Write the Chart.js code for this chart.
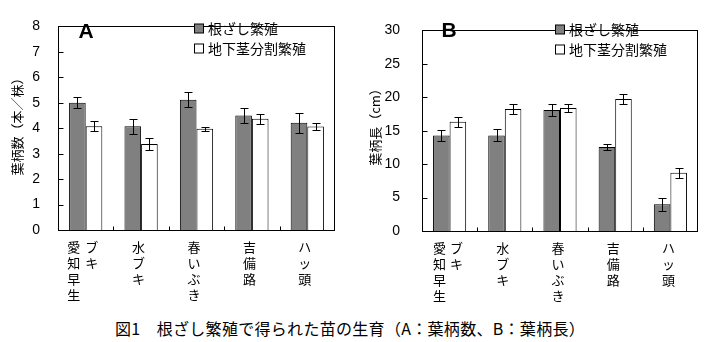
<!DOCTYPE html>
<html lang="ja">
<head>
<meta charset="UTF-8">
<title>根ざし繁殖で得られた苗の生育</title>
<script src="https://cdn.jsdelivr.net/npm/chart.js"></script>
<style>
    body {
        margin: 0;
        background: #fff;
        width: 715px;
        height: 342px;
        overflow: hidden;
        position: relative;
        font-family: "Noto Sans CJK JP", sans-serif;
    }
    #chartA { position: absolute; left: 0; top: 0; }
    #chartB { position: absolute; left: 360px; top: 0; }
    .caption {
        position: absolute;
        left: 0;
        width: 700px;
        top: 318px;
        line-height: 20px;
        text-align: center;
        font-size: 16px;
        letter-spacing: 0.3px;
        color: #000;
    }
</style>
</head>
<body>
<canvas id="chartA" width="345" height="310"></canvas>
<canvas id="chartB" width="350" height="311"></canvas>
<div class="caption">図1　根ざし繁殖で得られた苗の生育（A：葉柄数、B：葉柄長）</div>

<script>
    // categories, written as vertical columns under the axis
    const categories = [['愛知早生', 'ブキ'], ['水ブキ'], ['春いぶき'], ['吉備路'], ['ハッ頭']];
    const seriesNames = ['根ざし繁殖', '地下茎分割繁殖'];

    // A: 葉柄数 (本/株)
    const countNezashi = [5.0, 4.08, 5.12, 4.5, 4.21];
    const countNezashiErr = [0.22, 0.3, 0.3, 0.28, 0.4];
    const countChika = [4.08, 3.38, 3.98, 4.37, 4.07];
    const countChikaErr = [0.2, 0.22, 0.08, 0.19, 0.13];
    const countAxis = [0, 8, 1];   // min, max, step

    // B: 葉柄長 (cm)
    const lengthNezashi = [14.3, 14.3, 18.1, 12.55, 4.0];
    const lengthNezashiErr = [0.85, 0.88, 0.93, 0.4, 1.0];
    const lengthChika = [16.35, 18.25, 18.4, 19.75, 8.7];
    const lengthChikaErr = [0.77, 0.72, 0.55, 0.77, 0.72];
    const lengthAxis = [0, 30, 5];

    const JP = '"Noto Sans CJK JP", sans-serif';

    // frame, inward ticks, error bars, legend and text drawn on top of the bars
    const decor = {
        id: 'decor',
        afterDatasetsDraw(chart, args, opts) {
            const ctx = chart.ctx;
            const area = chart.chartArea;
            const xs = chart.scales.x;
            const ys = chart.scales.y;
            const l = Math.round(area.left) + 0.5;
            const r = Math.round(area.right) - 0.5;
            const t = Math.round(area.top) + 0.5;
            const b = Math.round(area.bottom) + 0.5;

            ctx.save();
            ctx.strokeStyle = '#000';
            ctx.lineWidth = 1;

            // error bars
            opts.errors.forEach((errs, d) => {
                const meta = chart.getDatasetMeta(d);
                meta.data.forEach((bar, i) => {
                    const v = chart.data.datasets[d].data[i];
                    const top = Math.round(ys.getPixelForValue(v + errs[i])) + 0.5;
                    const bot = Math.round(ys.getPixelForValue(v - errs[i])) + 0.5;
                    const bx = Math.round(bar.x) + 0.5;
                    ctx.beginPath();
                    ctx.moveTo(bx, top); ctx.lineTo(bx, bot);
                    ctx.moveTo(bx - 4, top); ctx.lineTo(bx + 4, top);
                    ctx.moveTo(bx - 4, bot); ctx.lineTo(bx + 4, bot);
                    ctx.stroke();
                });
            });

            // box round the plot
            ctx.strokeRect(l, t, r - l, b - t);

            // inward tick marks
            ctx.beginPath();
            ys.ticks.forEach(tk => {
                const py = Math.round(ys.getPixelForValue(tk.value)) + 0.5;
                ctx.moveTo(l, py); ctx.lineTo(l + 5, py);
            });
            for (let i = 1; i < categories.length; i++) {
                const px = Math.round((xs.getPixelForValue(i - 1) + xs.getPixelForValue(i)) / 2) + 0.5;
                ctx.moveTo(px, b); ctx.lineTo(px, b - 4);
            }
            ctx.stroke();

            // vertical category labels
            ctx.fillStyle = '#000';
            ctx.font = '13px ' + JP;
            ctx.textAlign = 'center';
            ctx.textBaseline = 'middle';
            categories.forEach((cols, i) => {
                const cx = xs.getPixelForValue(i);
                const offs = cols.length > 1 ? opts.twoColOffsets : [opts.oneColOffset];
                cols.forEach((col, c) => {
                    [...col].forEach((ch, k) => {
                        ctx.fillText(ch, cx + offs[c], area.bottom + opts.labelTop + k * 16);
                    });
                });
            });

            // legend
            chart.data.datasets.forEach((ds, d) => {
                const ly = opts.legend.y + d * 20;
                ctx.fillStyle = ds.backgroundColor;
                ctx.fillRect(opts.legend.x + 0.5, ly - 4.5, 9, 9);
                ctx.strokeRect(opts.legend.x + 0.5, ly - 4.5, 9, 9);
                ctx.fillStyle = '#000';
                ctx.textAlign = 'left';
                ctx.font = '14px ' + JP;
                ctx.fillText(ds.label, opts.legend.x + 14, ly);
            });

            // panel letter
            ctx.font = 'bold 21px "Liberation Sans", Arial, sans-serif';
            ctx.textAlign = 'center';
            ctx.fillText(opts.letter.text, opts.letter.x, opts.letter.y);

            // y axis title
            ctx.translate(opts.yTitle.x, opts.yTitle.y);
            ctx.rotate(-Math.PI / 2);
            ctx.font = '13px ' + JP;
            ctx.fillText(opts.yTitle.text, 0, 0);

            ctx.restore();
        }
    };

    const createChart = (canvasId, a, aErr, b, bErr, axis, yWidth, pad, decorOpts) => {
        return new Chart(document.getElementById(canvasId), {
            type: 'bar',
            data: {
                labels: categories.map(c => c.join('')),
                datasets: [{
                    label: seriesNames[0],
                    data: a,
                    backgroundColor: '#808080',
                    borderColor: '#000',
                    borderWidth: 1
                }, {
                    label: seriesNames[1],
                    data: b,
                    backgroundColor: '#ffffff',
                    borderColor: '#000',
                    borderWidth: 1
                }]
            },
            options: {
                responsive: false,
                animation: false,
                layout: { padding: pad },
                datasets: {
                    bar: { categoryPercentage: 0.6, barPercentage: 1.0 }
                },
                plugins: {
                    legend: { display: false },
                    tooltip: { enabled: false },
                    decor: Object.assign({ errors: [aErr, bErr] }, decorOpts)
                },
                scales: {
                    x: {
                        grid: { display: false },
                        border: { display: false },
                        ticks: { display: false },
                        afterFit: s => { s.height = 80; }
                    },
                    y: {
                        min: axis[0],
                        max: axis[1],
                        grid: { display: false, drawTicks: false },
                        border: { display: false },
                        ticks: {
                            stepSize: axis[2],
                            padding: yWidth - 40,
                            color: '#000',
                            font: { family: '"Liberation Sans", Arial, sans-serif', size: 14 }
                        },
                        afterFit: s => { s.width = yWidth; }
                    }
                }
            },
            plugins: [decor]
        });
    };

    createChart('chartA', countNezashi, countNezashiErr, countChika, countChikaErr, countAxis,
        58, { top: 8, right: 10, left: 0, bottom: 0 }, {
            twoColOffsets: [-12, 6],
            oneColOffset: -2.5,
            labelTop: 17,
            legend: { x: 194, y: 28.5 },
            letter: { text: 'A', x: 86, y: 32 },
            yTitle: { text: '葉柄数（本／株）', x: 17.5, y: 123.5 }
        });

    createChart('chartB', lengthNezashi, lengthNezashiErr, lengthChika, lengthChikaErr, lengthAxis,
        62, { top: 10, right: 12, left: 0, bottom: 0 }, {
            twoColOffsets: [-10, 7],
            oneColOffset: -2,
            labelTop: 17,
            legend: { x: 195, y: 29.5 },
            letter: { text: 'B', x: 89, y: 31.5 },
            yTitle: { text: '葉柄長（cm）', x: 15, y: 124 }
        });
</script>
</body>
</html>
